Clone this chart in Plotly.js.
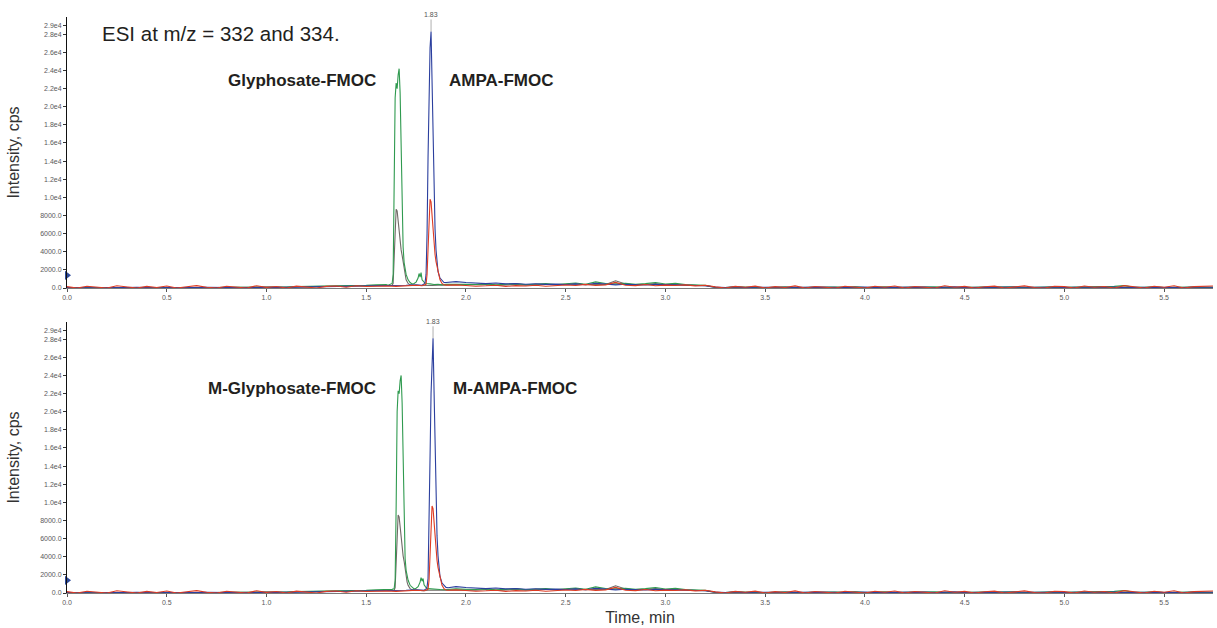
<!DOCTYPE html>
<html>
<head>
<meta charset="utf-8">
<script src="https://cdn.plot.ly/plotly-3.0.1.min.js"></script>
<style>html,body{margin:0;padding:0;background:#fff;}#chart{width:1217px;height:628px;}</style>
</head>
<body>
<div id="chart"></div>
<script>
// ---- baseline sampling times (min) ----
const tBase = [0,0.05,0.1,0.15,0.2,0.25,0.3,0.35,0.4,0.45,0.5,0.55,0.6,0.65,0.7,0.75,0.8,0.85,0.9,0.95,1,1.05,1.1,1.15,1.2,1.25,1.3,1.35,1.4,1.45,1.5,1.55,1.6,1.65,1.7,1.75,1.8,1.85,1.9,1.95,2,2.05,2.1,2.15,2.2,2.25,2.3,2.35,2.4,2.45,2.5,2.55,2.6,2.65,2.7,2.75,2.8,2.85,2.9,2.95,3,3.05,3.1,3.15,3.2,3.25,3.3,3.35,3.4,3.45,3.5,3.55,3.6,3.65,3.7,3.75,3.8,3.85,3.9,3.95,4,4.05,4.1,4.15,4.2,4.25,4.3,4.35,4.4,4.45,4.5,4.55,4.6,4.65,4.7,4.75,4.8,4.85,4.9,4.95,5,5.05,5.1,5.15,5.2,5.25,5.3,5.35,5.4,5.45,5.5,5.55,5.6,5.65,5.7,5.75];

// ---- baseline intensities (cps) ----
const redBase = [150,0,200,80,0,250,120,0,180,60,220,0,140,260,90,0,200,110,0,240,70,160,0,210,
  130,0,180,220,90,250,160,200,
  220,180,250,300,300,300,320,350,
  280,200,240,310,180,260,220,300,190,250,330,270,400,280,350,620,300,260,380,240,320,280,350,230,300,
  120,0,180,90,210,0,150,60,230,0,170,100,0,200,140,0,190,80,220,0,160,120,0,250,90,180,0,140,210,0,110,230,60,0,190,150,0,220,80,170,0,260,130,0,200,90,240,0,150,180,220];
const blueBase = [40,20,60,30,50,10,40,70,20,30,60,40,20,50,80,30,40,60,20,50,90,40,70,100,
  120,90,150,110,170,140,180,200,
  220,250,300,350,400,500,600,700,
  600,520,480,550,450,500,420,470,400,430,380,450,360,520,400,350,420,380,330,400,360,300,340,280,250,
  100,60,120,40,90,80,50,110,30,70,100,60,90,40,80,110,50,70,30,90,60,100,40,80,120,50,70,90,30,60,100,80,40,70,110,50,90,60,30,80,100,40,70,60,90,50,80,40,110,60,80];
const greenBase = [30,10,40,20,30,50,10,30,40,20,50,30,60,40,70,50,90,60,80,110,90,130,100,150,
  170,140,200,180,250,220,300,350,
  380,400,420,450,450,450,450,450,
  420,380,450,350,400,480,360,420,500,380,450,550,420,680,500,460,520,400,480,600,440,520,380,350,300,
  80,50,120,70,100,40,90,130,60,80,110,50,100,70,140,60,90,120,50,80,100,60,130,90,70,110,90,110,140,90,120,60,100,80,130,70,90,110,60,100,180,260,70,90,140,60,100,80,110,70,90];
const grayBase = [20,10,30,20,10,30,20,40,10,30,20,40,30,50,40,60,50,70,60,90,80,100,90,120,
  140,120,160,150,180,170,200,220,
  240,250,260,270,280,290,300,300,
  350,300,380,280,340,400,300,360,420,330,380,450,360,420,380,800,440,340,400,500,360,420,320,280,250,
  60,30,80,50,70,20,60,90,40,60,80,30,70,50,100,40,60,80,30,60,70,40,90,60,50,80,60,70,40,90,60,30,70,50,80,40,60,90,50,70,40,80,60,50,90,40,70,60,80,50,60];

// ---- peak regions, top panel (Glyphosate-FMOC / AMPA-FMOC) ----
const greenT1 = [1.600,1.610,1.620,1.630,1.635,1.640,1.645,1.650,1.655,1.660,1.665,1.670,1.675,1.680,1.685,1.690,1.695,1.700,1.710,1.720,1.730,1.740,1.750,1.760,1.765,1.770,1.775,1.780,1.790,1.800,1.820,1.840,1.860,1.880,1.900];
const greenY1 = [380,300,420,500,1500,10000,21000,22600,22000,23500,24200,21500,14500,8000,4500,2800,2000,1500,900,600,450,500,650,1100,1600,1200,1700,900,650,500,450,380,420,350,400];
const grayT1 = [1.600,1.620,1.630,1.635,1.640,1.645,1.650,1.655,1.660,1.665,1.670,1.675,1.680,1.685,1.690,1.695,1.700,1.710,1.720,1.740,1.760,1.780,1.800,1.830,1.860,1.900];
const grayY1 = [230,250,300,500,3500,7500,8700,8500,7200,6000,5000,4200,3600,2800,1900,1300,900,500,350,300,280,260,300,280,320,330];
const blueT1 = [1.780,1.790,1.795,1.800,1.805,1.810,1.815,1.820,1.825,1.830,1.835,1.840,1.845,1.850,1.855,1.860,1.870,1.880,1.890,1.900];
const blueY1 = [300,450,600,1500,6000,14500,21500,26500,28300,22000,15500,10500,6500,4200,2800,1800,1100,800,600,600];
const redT1 = [1.780,1.790,1.800,1.805,1.810,1.815,1.820,1.825,1.830,1.835,1.840,1.845,1.850,1.855,1.860,1.865,1.870,1.880,1.890,1.900];
const redY1 = [250,300,400,1500,4000,8000,9800,9500,7800,6300,4800,3700,2900,2400,1800,1200,900,500,350,320];

// ---- peak regions, bottom panel (M-Glyphosate-FMOC / M-AMPA-FMOC) ----
const greenT2 = [1.610,1.620,1.630,1.640,1.645,1.650,1.655,1.660,1.665,1.670,1.675,1.680,1.685,1.690,1.695,1.700,1.705,1.710,1.720,1.730,1.740,1.750,1.760,1.770,1.775,1.780,1.785,1.790,1.800,1.810,1.830,1.850,1.870,1.890,1.910];
const greenY2 = [350,320,400,480,1400,9500,20000,22300,22000,23400,24000,21000,14000,7200,3800,2500,1800,1400,850,600,450,520,700,1200,1700,1300,1600,900,600,480,420,400,380,360,400];
const grayT2 = [1.610,1.630,1.640,1.645,1.650,1.655,1.660,1.665,1.670,1.675,1.680,1.685,1.690,1.695,1.700,1.705,1.710,1.720,1.730,1.750,1.770,1.790,1.810,1.840,1.870,1.910];
const grayY2 = [240,260,300,600,3800,7600,8600,8400,7100,5900,4900,4100,3500,2700,1800,1200,850,480,340,300,270,260,300,280,320,330];
const blueT2 = [1.790,1.800,1.805,1.810,1.815,1.820,1.825,1.830,1.835,1.840,1.845,1.850,1.855,1.860,1.865,1.870,1.880,1.890,1.900,1.910];
const blueY2 = [300,450,650,1600,6500,15000,22000,26800,28100,22300,15300,10200,6300,4100,2700,1800,1100,800,620,580];
const redT2 = [1.790,1.800,1.810,1.815,1.820,1.825,1.830,1.835,1.840,1.845,1.850,1.855,1.860,1.865,1.870,1.875,1.880,1.890,1.900,1.910];
const redY2 = [250,300,400,1400,3800,7600,9600,9300,7600,6100,4700,3600,2800,2300,1700,1100,850,480,340,300];

// ---- axis ticks ----
const yTickVals = [0,2000,4000,6000,8000,10000,12000,14000,16000,18000,20000,22000,24000,26000,28000,29000];
const yTickText = ["0.0","2000.0","4000.0","6000.0","8000.0","1.0e4","1.2e4","1.4e4","1.6e4","1.8e4","2.0e4","2.2e4","2.4e4","2.6e4","2.8e4","2.9e4"];

// ---- labels ----
const apexTop = {t: 1.825, y: 28300, label: "1.83"};
const apexBot = {t: 1.835, y: 28100, label: "1.83"};
const markerLevel = 1400;

// ---- helpers ----
function merge(bt, by, pt, pv) {
  const lo = pt[0] - 1e-9, hi = pt[pt.length - 1] + 1e-9;
  const pts = [];
  for (let i = 0; i < bt.length; i++) if (bt[i] < lo || bt[i] > hi) pts.push([bt[i], by[i]]);
  for (let j = 0; j < pt.length; j++) pts.push([pt[j], pv[j]]);
  pts.sort((a, b) => a[0] - b[0]);
  return {x: pts.map(p => p[0]), y: pts.map(p => p[1])};
}

const W = 1217, H = 628, L = 67, R = 4, T = 17, B = 35;
const PW = W - L - R, PH = H - T - B;
const px = x => (x - L) / PW;
const py = y => (H - B - y) / PH;

const COL = {gray: '#6f6a66', green: '#2f9a4f', blue: '#2b3f9e', red: '#de3b23'};
const FONT = 'Liberation Sans, Arial, Helvetica, sans-serif';

function traces(xa, ya, gT, gY, kT, kY, bT, bY, rT, rY) {
  const out = [];
  const list = [
    [grayBase, kT, kY, COL.gray],
    [greenBase, gT, gY, COL.green],
    [blueBase, bT, bY, COL.blue],
    [redBase, rT, rY, COL.red]
  ];
  list.forEach(([base, pt, pv, c]) => {
    const m = merge(tBase, base, pt, pv);
    out.push({x: m.x, y: m.y, xaxis: xa, yaxis: ya, type: 'scatter', mode: 'lines',
      line: {color: c, width: 1.1}, hoverinfo: 'skip'});
  });
  return out;
}

const data = [
  ...traces('x', 'y', greenT1, greenY1, grayT1, grayY1, blueT1, blueY1, redT1, redY1),
  ...traces('x2', 'y2', greenT2, greenY2, grayT2, grayY2, blueT2, blueY2, redT2, redY2),
  {x: [0], y: [markerLevel], xaxis: 'x', yaxis: 'y', type: 'scatter', mode: 'markers', cliponaxis: false,
   marker: {symbol: 'triangle-right', size: 8, color: '#2d4a9a'}, hoverinfo: 'skip'},
  {x: [0], y: [markerLevel], xaxis: 'x2', yaxis: 'y2', type: 'scatter', mode: 'markers', cliponaxis: false,
   marker: {symbol: 'triangle-right', size: 8, color: '#2d4a9a'}, hoverinfo: 'skip'}
];

const tickFont = {family: FONT, size: 7, color: '#5a5a5a'};
function xAx(anchor, withTitle) {
  const a = {anchor: anchor, range: [0, 5.745], dtick: 0.5, tick0: 0, tickformat: '.1f',
    showline: true, linecolor: '#7a7a7a', linewidth: 1, ticks: 'outside', ticklen: 3, tickcolor: '#555',
    showgrid: false, zeroline: false, tickfont: tickFont};
  if (withTitle) a.title = {text: 'Time, min', font: {family: FONT, size: 16, color: '#333'}, standoff: 6};
  return a;
}
function yAx(anchor, domain) {
  return {anchor: anchor, domain: domain, range: [0, 29900], tickmode: 'array', tickvals: yTickVals, ticktext: yTickText,
    showline: true, linecolor: '#111', linewidth: 1, ticks: 'outside', ticklen: 3, tickcolor: '#333',
    showgrid: false, zeroline: false, tickfont: tickFont,
    title: {text: 'Intensity, cps', font: {family: FONT, size: 16, color: '#333'}, standoff: 16}};
}

const boldFont = {family: FONT, size: 17, color: '#231f20', weight: 'bold'};
const layout = {
  width: W, height: H,
  margin: {l: L, r: R, t: T, b: B, pad: 0},
  paper_bgcolor: '#fff', plot_bgcolor: '#fff',
  showlegend: false, hovermode: false,
  xaxis: xAx('y', false),
  yaxis: yAx('x', [py(288), 1]),
  xaxis2: xAx('y2', true),
  yaxis2: yAx('x2', [0, py(322)]),
  annotations: [
    {xref: 'paper', yref: 'paper', x: px(100), y: py(34), xanchor: 'left', yanchor: 'middle', showarrow: false,
     text: 'ESI at m/z = 332 and 334.', font: {family: FONT, size: 20.5, color: '#231f20'}},
    {xref: 'paper', yref: 'paper', x: px(378), y: py(80), xanchor: 'right', yanchor: 'middle', showarrow: false,
     text: '<b>Glyphosate-FMOC</b>', font: boldFont},
    {xref: 'paper', yref: 'paper', x: px(447), y: py(80), xanchor: 'left', yanchor: 'middle', showarrow: false,
     text: '<b>AMPA-FMOC</b>', font: boldFont},
    {xref: 'paper', yref: 'paper', x: px(378), y: py(388), xanchor: 'right', yanchor: 'middle', showarrow: false,
     text: '<b>M-Glyphosate-FMOC</b>', font: boldFont},
    {xref: 'paper', yref: 'paper', x: px(451), y: py(388), xanchor: 'left', yanchor: 'middle', showarrow: false,
     text: '<b>M-AMPA-FMOC</b>', font: boldFont},
    {xref: 'x', yref: 'y', x: apexTop.t, y: apexTop.y, text: apexTop.label, showarrow: true, arrowhead: 0,
     ax: 0, ay: -17, arrowcolor: '#999', arrowwidth: 0.8, standoff: 0, font: {family: FONT, size: 7, color: '#555'}},
    {xref: 'x2', yref: 'y2', x: apexBot.t, y: apexBot.y, text: apexBot.label, showarrow: true, arrowhead: 0,
     ax: 0, ay: -17, arrowcolor: '#999', arrowwidth: 0.8, standoff: 0, font: {family: FONT, size: 7, color: '#555'}}
  ]
};

Plotly.newPlot('chart', data, layout, {staticPlot: true, displayModeBar: false});
</script>
</body>
</html>
